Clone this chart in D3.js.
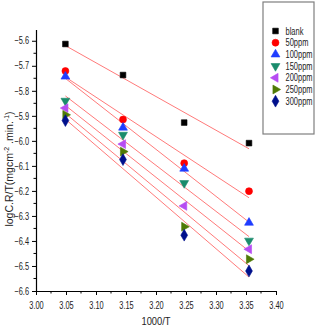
<!DOCTYPE html>
<html>
<head>
<meta charset="utf-8">
<script src="https://cdn.jsdelivr.net/npm/d3@7"></script>
<style>
  html, body { margin: 0; padding: 0; background: #fff; }
  svg { display: block; }
  text { font-family: "Liberation Sans", Arial, sans-serif; }
</style>
</head>
<body>
<div id="vis"></div>
<script>
// data
var xValues = [3.049, 3.145, 3.247, 3.355];
var seriesNames = ["blank", "50ppm", "100ppm", "150ppm", "200ppm", "250ppm", "300ppm"];
var blank  = [-5.613, -5.737, -5.927, -6.009];
var ppm50  = [-5.721, -5.915, -6.089, -6.201];
var ppm100 = [-5.743, -5.947, -6.111, -6.327];
var ppm150 = [-5.840, -5.976, -6.169, -6.399];
var ppm200 = [-5.869, -6.013, -6.260, -6.433];
var ppm250 = [-5.896, -6.043, -6.343, -6.473];
var ppm300 = [-5.919, -6.075, -6.377, -6.520];
var xTicks = [3.00, 3.05, 3.10, 3.15, 3.20, 3.25, 3.30, 3.35, 3.40];
var yTicks = [-5.6, -5.7, -5.8, -5.9, -6.0, -6.1, -6.2, -6.3, -6.4, -6.5, -6.6];

var seriesValues = [blank, ppm50, ppm100, ppm150, ppm200, ppm250, ppm300];
var colors = ["#000000", "#ff0000", "#1f3cff", "#1a8c6c", "#b64cf2", "#4f7a06", "#00108c"];
var shapes = ["square", "circle", "up", "down", "left", "right", "diamond"];

var W = 316, H = 329;
var svg = d3.select("#vis").append("svg")
    .attr("width", W)
    .attr("height", H);

var x = d3.scaleLinear().domain([3.0, 3.4]).range([36, 276]);
var y = d3.scaleLinear().domain([-6.6, -5.555]).range([291, 29.5]);

// squeeze text horizontally, the original uses a narrow font
function narrow(sel, r) {
    sel.each(function () {
        var w = this.getComputedTextLength();
        d3.select(this).attr("textLength", w * r).attr("lengthAdjust", "spacingAndGlyphs");
    });
}

// x axis
var xAxis = svg.append("g")
    .attr("transform", "translate(0," + y(-6.6) + ")")
    .call(d3.axisBottom(x).tickValues(xTicks).tickFormat(d3.format(".2f")).tickSize(4).tickSizeOuter(0));
xAxis.append("g")
    .selectAll("line")
    .data(d3.range(0, 8).map(function (i) { return 3.025 + i * 0.05; }))
    .enter()
    .append("line")
    .attr("x1", function (d) { return x(d); })
    .attr("x2", function (d) { return x(d); })
    .attr("y1", 0)
    .attr("y2", 2.5)
    .attr("stroke", "#000");

// y axis
var yAxis = svg.append("g")
    .attr("transform", "translate(" + x(3.0) + ",0)")
    .call(d3.axisLeft(y).tickValues(yTicks).tickFormat(d3.format(".1f")).tickSize(4).tickSizeOuter(0));
yAxis.append("g")
    .selectAll("line")
    .data(d3.range(0, 10).map(function (i) { return -5.65 - i * 0.1; }))
    .enter()
    .append("line")
    .attr("y1", function (d) { return y(d); })
    .attr("y2", function (d) { return y(d); })
    .attr("x1", 0)
    .attr("x2", -2.5)
    .attr("stroke", "#000");

svg.selectAll(".tick text")
    .attr("font-size", "10px")
    .attr("fill", "#222");
xAxis.selectAll(".tick text").attr("dy", "1.1em");
narrow(svg.selectAll(".tick text"), 0.74);
svg.selectAll("path.domain").attr("stroke", "#000").attr("stroke-width", 1.2);

// linear fits
function fit(xs, ys) {
    var mx = d3.mean(xs), my = d3.mean(ys);
    var sxy = d3.sum(xs, function (d, i) { return (d - mx) * (ys[i] - my); });
    var sxx = d3.sum(xs, function (d) { return (d - mx) * (d - mx); });
    var b = sxy / sxx;
    return function (v) { return my + b * (v - mx); };
}

seriesValues.forEach(function (vals) {
    var f = fit(xValues, vals);
    var x0 = xValues[0], x1 = xValues[xValues.length - 1];
    svg.append("line")
        .attr("x1", x(x0)).attr("y1", y(f(x0)))
        .attr("x2", x(x1)).attr("y2", y(f(x1)))
        .attr("stroke", "#ff7a7a")
        .attr("stroke-width", 1);
});

function marker(sel, shape, color) {
    var sym, rot = 0, size = 38;
    if (shape == "square") { sym = d3.symbolSquare; size = 32; }
    else if (shape == "circle") { sym = d3.symbolCircle; size = 38; }
    else if (shape == "diamond") { sym = d3.symbolDiamond; size = 40; }
    else {
        sym = d3.symbolTriangle; size = 34;
        rot = { up: 0, down: 180, left: -90, right: 90 }[shape];
    }
    sel.append("path")
        .attr("d", d3.symbol().type(sym).size(size))
        .attr("fill", color)
        .attr("stroke", color)
        .attr("stroke-width", 0.6)
        .attr("transform", "rotate(" + rot + ")");
}

// points
seriesValues.forEach(function (vals, s) {
    vals.forEach(function (v, i) {
        var g = svg.append("g")
            .attr("transform", "translate(" + x(xValues[i]) + "," + y(v) + ")");
        marker(g, shapes[s], colors[s]);
    });
});

// legend
var legend = svg.append("g");
legend.append("rect")
    .attr("x", 263).attr("y", 2)
    .attr("width", 51).attr("height", 132)
    .attr("fill", "#fff")
    .attr("stroke", "#7f7f7f")
    .attr("stroke-width", 1.2);

seriesNames.forEach(function (name, i) {
    var g = legend.append("g")
        .attr("transform", "translate(275.5," + (31 + i * 11.7) + ")");
    marker(g, shapes[i], colors[i]);
    legend.append("g")
        .attr("transform", "translate(285.5," + (31 + i * 11.7) + ") scale(0.75,1)")
        .append("text")
        .attr("dy", "0.35em")
        .attr("font-size", "10px")
        .attr("fill", "#222")
        .text(name);
});

// axis titles
var xl = svg.append("text")
    .attr("x", 156)
    .attr("y", 325)
    .attr("text-anchor", "middle")
    .attr("font-size", "11px")
    .attr("fill", "#222")
    .text("1000/T");
narrow(xl, 0.85);

var yl = svg.append("text")
    .attr("transform", "translate(13,169) rotate(-90)")
    .attr("text-anchor", "middle")
    .attr("font-size", "10.5px")
    .attr("fill", "#222");
yl.append("tspan").text("logC.R/T(mgcm");
yl.append("tspan").attr("font-size", "7px").attr("dy", "-4").text("-2");
yl.append("tspan").attr("dy", "4").text(" .min.");
yl.append("tspan").attr("font-size", "7px").attr("dy", "-4").text("-1");
yl.append("tspan").attr("dy", "4").text(")");
</script>
</body>
</html>
